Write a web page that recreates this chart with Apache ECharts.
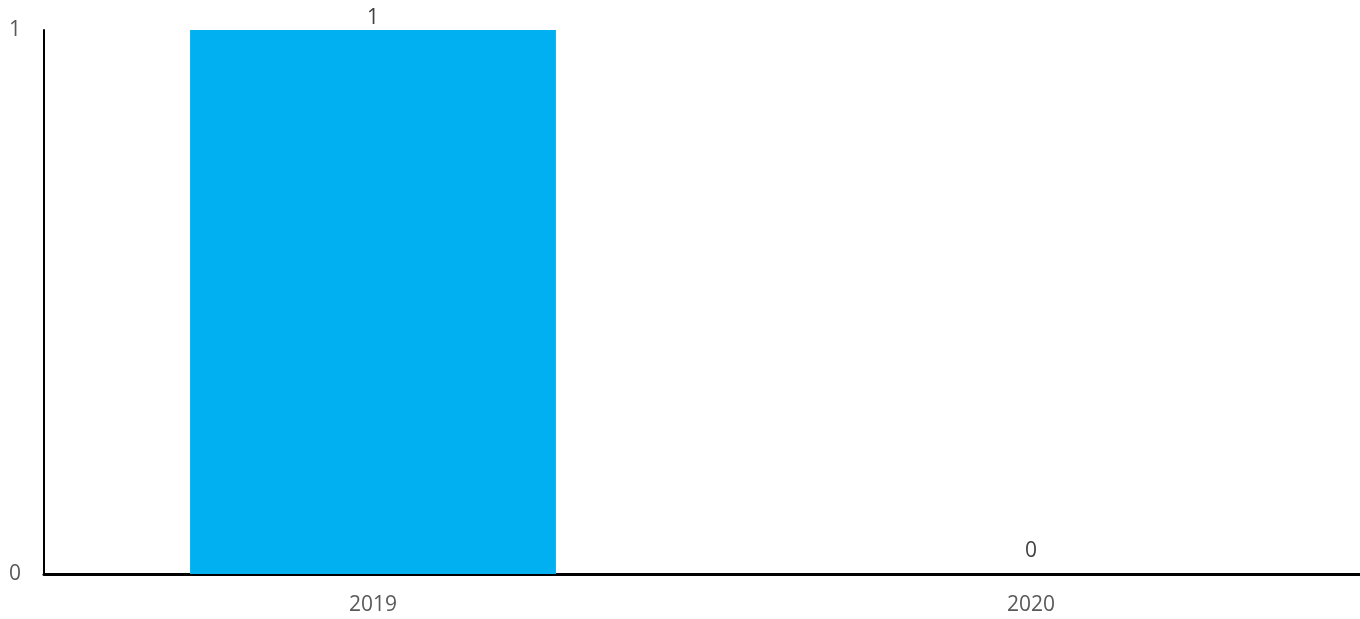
<!DOCTYPE html>
<html>
<head>
<meta charset="utf-8">
<script src="https://cdn.jsdelivr.net/npm/echarts@6/dist/echarts.min.js"></script>
<style>html,body{margin:0;padding:0;background:#fff;}#c{width:1360px;height:619px;}</style>
</head>
<body>
<div id="c"></div>
<script>
const categories = ['2019', '2020'];
const values = [1, 0];
const yTicks = [0, 1];

const labelDistances = [1, 12];

const chart = echarts.init(document.getElementById('c'));
chart.setOption({
  animation: false,
  textStyle: { fontFamily: 'Open Sans, sans-serif' },
  grid: { left: 44, right: 0, top: 30, bottom: 45, containLabel: false },
  xAxis: {
    type: 'category',
    data: categories,
    axisLine: { lineStyle: { color: '#000', width: 3 } },
    axisTick: { show: false },
    axisLabel: { color: '#595959', fontSize: 21, margin: 21 }
  },
  yAxis: {
    type: 'value',
    min: yTicks[0],
    max: yTicks[yTicks.length - 1],
    interval: 1,
    splitLine: { show: false },
    axisLine: { show: true, lineStyle: { color: '#000', width: 2 } },
    axisTick: { show: false },
    axisLabel: { color: '#595959', fontSize: 21, margin: 23 }
  },
  series: [{
    type: 'bar',
    data: values.map((v, i) => ({ value: v, label: { distance: labelDistances[i] } })),
    barWidth: '55.6%',
    itemStyle: { color: '#00B0F0' },
    label: { show: true, position: 'top', color: '#404040', fontSize: 21 }
  }]
});
</script>
</body>
</html>
